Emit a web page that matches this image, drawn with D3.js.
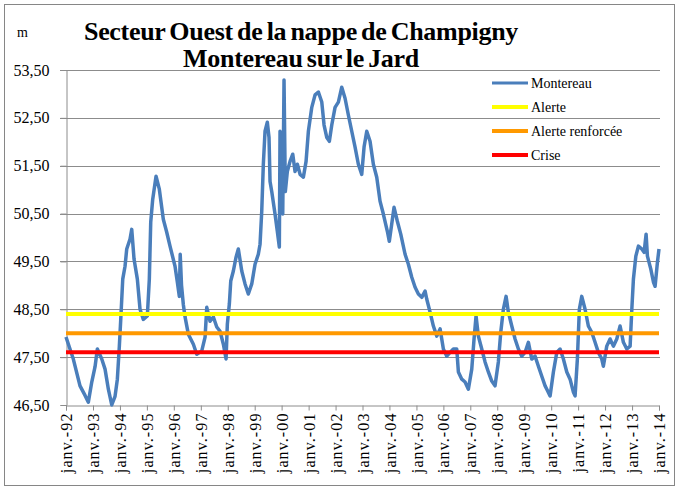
<!DOCTYPE html>
<html>
<head>
<meta charset="utf-8">
<script src="https://cdn.jsdelivr.net/npm/d3@7"></script>
<style>
  html, body { margin: 0; padding: 0; background: #fff; }
  svg { display: block; }
  text { font-family: "Liberation Serif", "Times New Roman", serif; fill: #000; }
</style>
</head>
<body>
<svg id="chart" width="678" height="490"></svg>
<script>
// ---- Data ----
const titleLines = ["Secteur Ouest de la nappe de Champigny", "Montereau sur le Jard"];
const unitLabel = "m";
const seriesNames = ["Montereau", "Alerte", "Alerte renforcée", "Crise"];

// Montereau: time (decimal year) and water level (m)
const montereauYears = [
  1992.000, 1992.271, 1992.519, 1992.705, 1992.827, 1992.954, 1993.076, 1993.161, 1993.325, 1993.447,
  1993.570, 1993.696, 1993.818, 1993.904, 1993.978, 1994.030, 1994.104, 1994.189, 1994.252, 1994.375,
  1994.438, 1994.523, 1994.646, 1994.746, 1994.868, 1995.017, 1995.091, 1995.143, 1995.217, 1995.340,
  1995.462, 1995.610, 1995.737, 1995.859, 1996.045, 1996.130, 1996.204, 1996.237, 1996.286, 1996.352,
  1996.416, 1996.538, 1996.724, 1996.850, 1997.035, 1997.158, 1997.221, 1997.343, 1997.466, 1997.592,
  1997.714, 1997.837, 1997.937, 1997.985, 1998.059, 1998.111, 1998.208, 1998.308, 1998.393, 1998.520,
  1998.642, 1998.764, 1998.891, 1999.013, 1999.135, 1999.199, 1999.262, 1999.321, 1999.384, 1999.469,
  1999.532, 1999.570, 1999.633, 1999.755, 1999.840, 1999.915, 1999.941, 2000.004, 2000.041, 2000.089,
  2000.137, 2000.211, 2000.312, 2000.412, 2000.497, 2000.583, 2000.683, 2000.805, 2000.905, 2000.991,
  2001.117, 2001.239, 2001.362, 2001.488, 2001.573, 2001.673, 2001.770, 2001.859, 2001.981, 2002.104,
  2002.230, 2002.352, 2002.475, 2002.601, 2002.724, 2002.846, 2002.972, 2003.058, 2003.158, 2003.280,
  2003.403, 2003.529, 2003.651, 2003.774, 2003.922, 2003.996, 2004.085, 2004.171, 2004.293, 2004.419,
  2004.579, 2004.701, 2004.827, 2004.950, 2005.072, 2005.198, 2005.321, 2005.384, 2005.506, 2005.629,
  2005.755, 2005.878, 2006.000, 2006.126, 2006.249, 2006.371, 2006.497, 2006.557, 2006.683, 2006.805,
  2006.928, 2007.054, 2007.139, 2007.213, 2007.299, 2007.425, 2007.547, 2007.670, 2007.796, 2007.918,
  2008.041, 2008.130, 2008.226, 2008.327, 2008.412, 2008.538, 2008.660, 2008.783, 2008.909, 2009.031,
  2009.154, 2009.280, 2009.403, 2009.525, 2009.651, 2009.774, 2009.837, 2009.959, 2010.082, 2010.208,
  2010.330, 2010.453, 2010.579, 2010.701, 2010.824, 2010.887, 2010.972, 2011.046, 2011.135, 2011.258,
  2011.380, 2011.506, 2011.629, 2011.751, 2011.878, 2011.937, 2012.063, 2012.186, 2012.308, 2012.434,
  2012.557, 2012.679, 2012.805, 2012.928, 2012.991, 2013.050, 2013.140, 2013.236, 2013.362, 2013.447,
  2013.521, 2013.570, 2013.696, 2013.793, 2013.855, 2013.941, 2014.000
];
const montereauLevels = [
  47.92, 47.46, 46.90, 46.70, 46.56, 46.98, 47.30, 47.67, 47.46, 47.25,
  46.83, 46.50, 46.68, 47.04, 47.73, 48.29, 49.13, 49.40, 49.76, 49.97,
  50.17, 49.55, 49.13, 48.50, 48.29, 48.36, 49.13, 50.32, 50.80, 51.28,
  51.01, 50.38, 50.11, 49.82, 49.40, 49.07, 48.77, 49.65, 49.00, 48.60,
  48.34, 47.98, 47.77, 47.56, 47.63, 47.92, 48.54, 48.25, 48.34, 48.13,
  48.04, 47.77, 47.46, 48.19, 48.61, 49.09, 49.30, 49.59, 49.76, 49.30,
  49.03, 48.82, 49.03, 49.44, 49.65, 49.86, 50.55, 51.53, 52.22, 52.41,
  52.09, 51.17, 50.96, 50.49, 50.13, 49.80, 52.22, 51.53, 50.49, 53.29,
  50.96, 51.38, 51.59, 51.74, 51.38, 51.53, 51.32, 51.26, 51.59, 52.22,
  52.72, 52.98, 53.04, 52.83, 52.35, 52.09, 52.01, 52.35, 52.72, 52.83,
  53.14, 52.91, 52.56, 52.22, 51.89, 51.53, 51.32, 51.89, 52.22, 52.01,
  51.53, 51.26, 50.76, 50.49, 50.13, 49.92, 50.28, 50.63, 50.34, 50.07,
  49.65, 49.44, 49.17, 48.96, 48.82, 48.75, 48.88, 48.71, 48.44, 48.15,
  47.94, 48.09, 47.67, 47.52, 47.60, 47.67, 47.67, 47.19, 47.04, 46.98,
  46.83, 47.25, 47.88, 48.36, 47.94, 47.67, 47.40, 47.19, 47.00, 46.90,
  47.40, 48.02, 48.50, 48.77, 48.44, 48.15, 47.88, 47.67, 47.52, 47.60,
  47.81, 47.46, 47.52, 47.31, 47.10, 46.90, 46.83, 46.69, 47.19, 47.60,
  47.67, 47.46, 47.19, 47.04, 46.77, 46.69, 47.46, 48.50, 48.77, 48.50,
  48.15, 48.02, 47.81, 47.60, 47.46, 47.31, 47.73, 47.88, 47.73, 47.88,
  48.15, 47.81, 47.67, 47.73, 48.50, 49.13, 49.61, 49.82, 49.76, 49.69,
  50.07, 49.61, 49.34, 49.07, 48.98, 49.48, 49.76
];

// Threshold levels (m), constant over the whole period
const thresholdYears = [1992, 2014];
const alerteLevels = [48.40, 48.40];
const renforceeLevels = [48.00, 48.00];
const criseLevels = [47.60, 47.60];

// Axes
const yTicks = [46.5, 47.5, 48.5, 49.5, 50.5, 51.5, 52.5, 53.5];
const yDomain = [46.5, 53.5];
const xStartYear = 1992, xEndYear = 2014;

// ---- Helpers ----
function yearToDate(y) {
  const yr = Math.floor(y);
  const start = new Date(yr, 0, 1), end = new Date(yr + 1, 0, 1);
  return new Date(start.getTime() + (y - yr) * (end - start));
}

const svg = d3.select("#chart");
const plot = { left: 66, right: 659, top: 70, bottom: 405 };

// outer frame
svg.append("rect")
  .attr("x", 4.5).attr("y", 4.5)
  .attr("width", 670).attr("height", 481)
  .attr("fill", "none").attr("stroke", "#868686").attr("stroke-width", 1);

const x = d3.scaleTime()
  .domain([new Date(xStartYear, 0, 1), new Date(xEndYear, 0, 1)])
  .range([plot.left, plot.right]);
const y = d3.scaleLinear().domain(yDomain).range([plot.bottom, plot.top]);

const gridColor = "#8c8c8c";

// horizontal gridlines
svg.append("g").selectAll("line").data(yTicks.filter(d => d !== yDomain[0])).join("line")
  .attr("x1", plot.left - 6).attr("x2", plot.right + 1)
  .attr("y1", d => Math.round(y(d)) + 0.5).attr("y2", d => Math.round(y(d)) + 0.5)
  .attr("stroke", gridColor).attr("stroke-width", 1);

// Y axis
const fmtY = v => d3.format(".2f")(v).replace(".", ",");
const yAxis = svg.append("g")
  .attr("transform", `translate(${plot.left + 0.5},0)`)
  .call(d3.axisLeft(y).tickValues(yTicks).tickFormat(fmtY).tickSize(6).tickPadding(11));
yAxis.select(".domain").attr("stroke", gridColor);
yAxis.selectAll(".tick line").attr("stroke", gridColor);
yAxis.selectAll(".tick text")
  .style("font-family", '"Liberation Serif", serif').style("font-size", "16px").attr("fill", "#000");

// X axis
const xTicks = d3.range(xStartYear, xEndYear + 1).map(yr => new Date(yr, 0, 1));
const fmtX = d => "janv.-" + String(d.getFullYear()).slice(2);
const xAxis = svg.append("g")
  .attr("transform", `translate(0,${Math.round(plot.bottom) + 0.5})`)
  .call(d3.axisBottom(x).tickValues(xTicks).tickFormat(fmtX).tickSize(5).tickPadding(6));
xAxis.select(".domain").attr("stroke", gridColor);
xAxis.selectAll(".tick line").attr("stroke", gridColor);
xAxis.selectAll(".tick text")
  .style("font-family", '"Liberation Serif", serif').style("font-size", "16px")
  .style("letter-spacing", "1.1px").attr("fill", "#000")
  .attr("text-anchor", "end").attr("dy", "0.35em")
  .attr("transform", "translate(0,7) rotate(-90)")
  .attr("x", 0).attr("y", 0);

// Lines
const line = d3.line().x(d => x(yearToDate(d[0]))).y(d => y(d[1]));
const zip = (a, b) => a.map((v, i) => [v, b[i]]);

const blue = "#4a7ebb";
const colors = [blue, "#ffff00", "#ff9900", "#ff0000"];

svg.append("path")
  .datum(zip(montereauYears, montereauLevels))
  .attr("d", line).attr("fill", "none")
  .attr("stroke", blue).attr("stroke-width", 3.5).attr("stroke-linejoin", "round");

[alerteLevels, renforceeLevels, criseLevels].forEach((lv, i) => {
  svg.append("path")
    .datum(zip(thresholdYears, lv))
    .attr("d", line).attr("fill", "none")
    .attr("stroke", colors[i + 1]).attr("stroke-width", 4);
});

// Legend
const legend = svg.append("g");
const legY = [83, 107, 131, 155];
seriesNames.forEach((name, i) => {
  legend.append("line")
    .attr("x1", 492).attr("x2", 528).attr("y1", legY[i]).attr("y2", legY[i])
    .attr("stroke", colors[i]).attr("stroke-width", i === 0 ? 3 : 4);
  legend.append("text")
    .attr("x", 531).attr("y", legY[i] + 5)
    .style("font-size", "14px").text(name);
});

// Titles
svg.append("text").attr("x", 301).attr("y", 40).attr("text-anchor", "middle")
  .style("font-size", "26px").style("font-weight", "bold").style("word-spacing", "-2px")
  .style("letter-spacing", "-0.3px")
  .text(titleLines[0]);
svg.append("text").attr("x", 301).attr("y", 67).attr("text-anchor", "middle")
  .style("font-size", "26px").style("font-weight", "bold").style("word-spacing", "-2px")
  .style("letter-spacing", "-0.3px")
  .text(titleLines[1]);
svg.append("text").attr("x", 17).attr("y", 37)
  .style("font-size", "14px").text(unitLabel);
</script>
</body>
</html>
